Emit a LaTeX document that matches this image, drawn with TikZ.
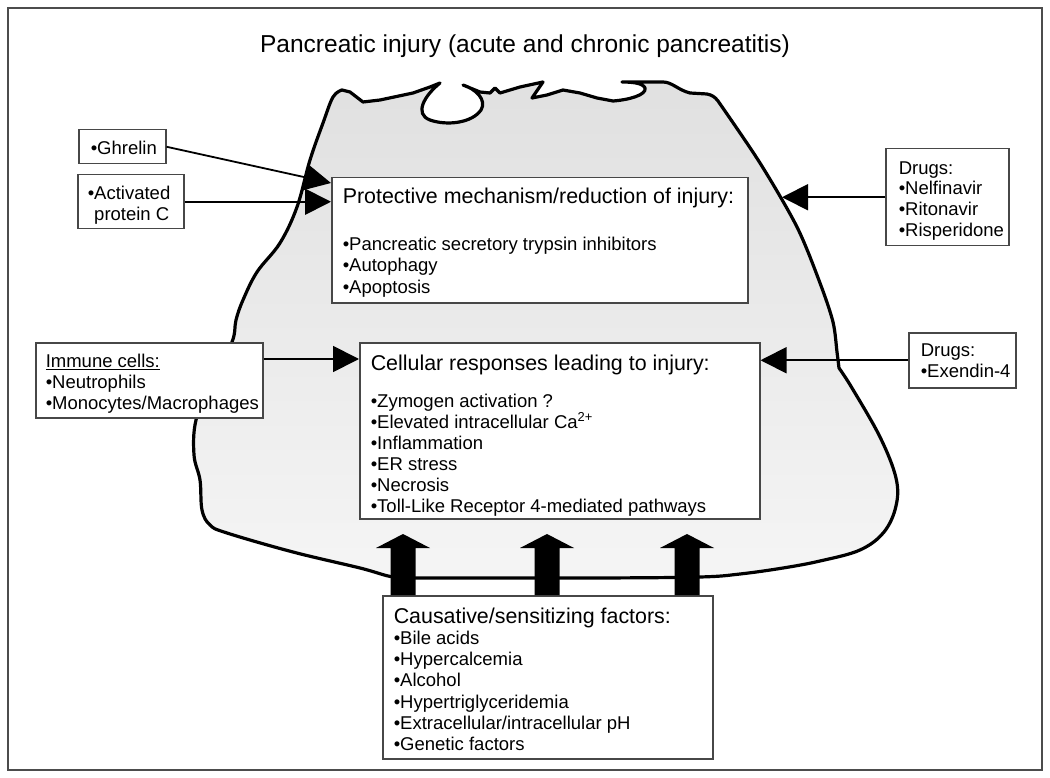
\documentclass[tikz,border=0pt]{standalone}
\usepackage{fontspec}
\setmainfont{Liberation Sans}
\usetikzlibrary{arrows.meta,calc}
\newcommand\itemsz{\fontsize{18.5}{21.2}\selectfont}
\newcommand\headsz{\fontsize{21.4}{25}\selectfont}
\newcommand\titlesz{\fontsize{24.5}{29}\selectfont}
\newcommand\stack[3][21.2pt]{\makebox[#2][l]{\vtop{\baselineskip=#1\relax\halign{##\hfil\cr#3\crcr}}}}
\begin{document}
\begin{tikzpicture}[x=1pt,y=-1pt,
  box/.style={draw=black!72, line width=1.5pt, fill=white, anchor=north west, inner ysep=0pt, font=\itemsz},
  conn/.style={draw=black, line width=1.8pt, -{Triangle[length=26pt,width=26pt]}},
  blob/.style={draw=black, line width=3.2pt, line join=round, top color=black!12, bottom color=black!4},
  blockarrow/.style={fill=black},
  frame/.style={draw=black!70, line width=1.6pt}]
\useasboundingbox (0,0) rectangle (1050,778);
\draw[frame] (8,8) rectangle (1042,770);
\node[font=\titlesz, inner sep=0pt] (title) at (525,46) {Pancreatic injury (acute and chronic pancreatitis)};

% pancreas outline
\path[blob] (342,90) -- (350,92) -- (363,102) -- (380,100) -- (413,93) -- (430,87) -- (440,83)
  .. controls (424,96) and (414,114) .. (430,120)
  .. controls (447,126) and (472,123) .. (481,110)
  .. controls (487,100) and (476,89) .. (463,85)
  -- (480,92) -- (490,93) -- (495,88) -- (500,93) -- (520,87) -- (543,82) -- (532,98) -- (547,95) -- (563,90) -- (580,93) -- (597,98) -- (613,101)
  .. controls (628,100) and (647,95) .. (645,88)
  .. controls (643,83) and (632,82) .. (622,82)
  -- (663,82) .. controls (672,82) and (678,90) .. (690,93) -- (707,94) .. controls (712,95) and (715,97) .. (718,101)
  -- plot[smooth, tension=0.5] coordinates {(718,101) (760,163) (797,227) (820,283) (833,322) (837,352) (839,368)}
  -- plot[smooth, tension=0.6] coordinates {(839,368) (852,388) (880,437) (896,478) (896,506) (884,532) (860,550) (820,561) (783,568) (740,574) (700,577) (600,578) (500,578) (420,578) (393,577) (360,568) (293,552) (227,533) (210,525) (202,510) (200,480) (194,455) (196,420) (212,380) (232,342) (236,320) (243,300) (257,272) (280,243) (297,207) (310,160) (323,123) (333,97) (342,90)}
  -- cycle;

% boxes
\node[box, inner xsep=12pt, text height=24.5pt, text depth=9.5pt] (ghrelin) at (78,129)
  {\stack{63pt}{•Ghrelin}};
\node[box, inner xsep=10pt, text height=24.5pt, text depth=29.5pt] (apc) at (77,174)
  {\stack[21pt]{86pt}{•Activated\cr\phantom{•}protein C}};
\node[box, inner xsep=11pt, text height=25.5pt, text depth=99.5pt] (prot) at (331,177)
  {\stack[21.5pt]{394pt}{{\headsz Protective mechanism/reduction of injury:}\cr\noalign{\vskip 25.5pt}•Pancreatic secretory trypsin inhibitors\cr •Autophagy\cr •Apoptosis}};
\node[box, inner xsep=13pt, text height=25.5pt, text depth=71.5pt] (drugs1) at (885,148)
  {\stack[20.7pt]{97pt}{Drugs:\cr •Nelfinavir\cr •Ritonavir\cr •Risperidone}};
\node[box, inner xsep=10pt, text height=24.5pt, text depth=50.5pt] (immune) at (35,342)
  {\stack[21pt]{207pt}{\underline{Immune cells:}\cr •Neutrophils\cr •Monocytes/Macrophages}};
\node[box, inner xsep=11pt, text height=27.5pt, text depth=148.5pt] (cell) at (359,342)
  {\stack[21pt]{378pt}{{\headsz Cellular responses leading to injury:}\cr\noalign{\vskip 16pt}•Zymogen activation ?\cr •Elevated intracellular Ca\textsuperscript{2+}\cr •Inflammation\cr •ER stress\cr •Necrosis\cr •Toll-Like Receptor 4-mediated pathways}};
\node[box, inner xsep=12pt, text height=23.5pt, text depth=31.5pt] (drugs2) at (908,332)
  {\stack[21pt]{83pt}{Drugs:\cr •Exendin-4}};
\node[box, inner xsep=11pt, text height=27.5pt, text depth=135.5pt] (cause) at (382,595)
  {\stack[21.2pt]{308pt}{{\headsz Causative/sensitizing factors:}\cr •Bile acids\cr •Hypercalcemia\cr •Alcohol\cr •Hypertriglyceridemia\cr •Extracellular/intracellular pH\cr •Genetic factors}};

% connectors
\coordinate (protG) at ($(prot.north west)+(0,6)$);
\draw[conn] (ghrelin.east) -- (protG);
\draw[conn] (apc.east) -- (apc.east -| prot.west);
\coordinate (blobR) at (782,195);
\draw[conn] (drugs1.west) -- (drugs1.west -| blobR);
\coordinate (immA) at ($(immune.north east)+(0,17)$);
\draw[conn] (immA) -- (immA -| cell.west);
\draw[conn] (drugs2.west) -- (drugs2.west -| cell.east);

% block arrows from causative factors
\foreach \bx/\nm in {403/b1, 547/b2, 687/b3} {
  \coordinate (\nm) at ($(cause.north west)+(\bx-382,0)$);
  \fill[blockarrow] (\nm) ++(-12.5,0) -- ++(0,-47) -- ++(-14.5,0) -- ++(27,-14) -- ++(27,14) -- ++(-14.5,0) -- ++(0,47) -- cycle;
}
\end{tikzpicture}
\end{document}
